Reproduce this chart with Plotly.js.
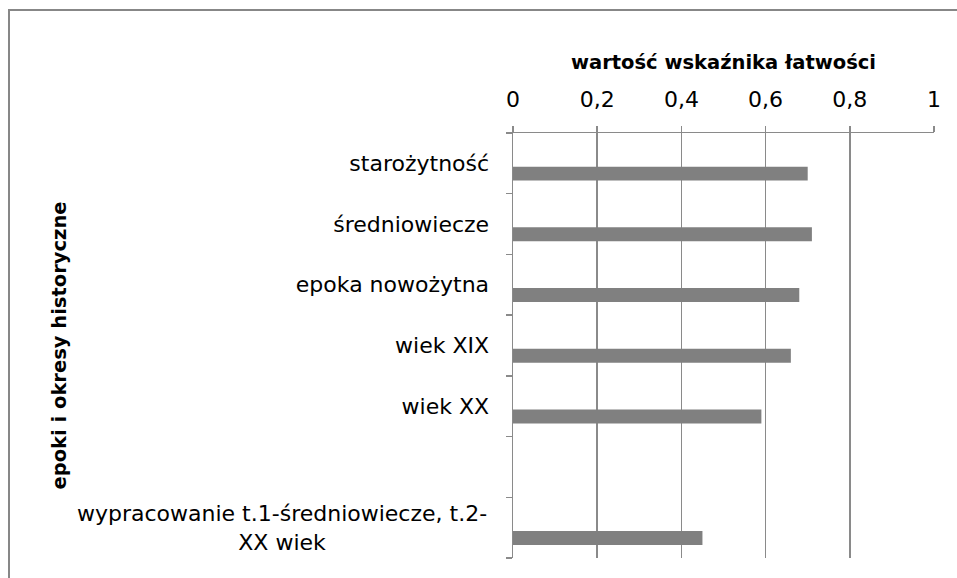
<!DOCTYPE html>
<html>
<head>
<meta charset="utf-8">
<script src="https://cdn.plot.ly/plotly-3.0.1.min.js"></script>
<style>
  html, body { margin: 0; padding: 0; overflow: hidden; background: #fff; }
  #chart { position: absolute; left: 0; top: 0; width: 957px; height: 578px; }
  #frame { position: absolute; left: 8px; top: 9px; width: 2000px; height: 2000px;
           border: 2px solid #878787; pointer-events: none; }
</style>
</head>
<body>
<div id="chart"></div>
<div id="frame"></div>
<script>
// epoki / okresy (od góry), szósta pozycja jest pusta w oryginale
const categories = [
    'starożytność',
    'średniowiecze',
    'epoka nowożytna',
    'wiek XIX',
    'wiek XX',
    '\u00a0',
    'wypracowanie t.1-średniowiecze, t.2-<br>XX wiek'
];
const values = [0.70, 0.71, 0.68, 0.66, 0.59, null, 0.45];
const xTicks = [0, 0.2, 0.4, 0.6, 0.8, 1];

const xTitle = 'wartość wskaźnika łatwości';
const yTitle = 'epoki i okresy historyczne';

const FONT = '"DejaVu Sans", sans-serif';
const GRID = '#8a8a8a';

// last label is centred in the original, so it goes in as an annotation
const lastCat = categories[categories.length - 1];
const tickText = categories.map(c => (c === lastCat ? '' : c));

const trace = {
    type: 'bar',
    orientation: 'h',
    x: values,
    y: categories,
    width: 0.23,
    offset: 0.054,
    marker: { color: '#808080', line: { width: 0 } },
    hoverinfo: 'x+y'
};

const layout = {
    width: 957,
    height: 578,
    margin: { l: 513, r: 23, t: 133, b: 20 },
    paper_bgcolor: '#fff',
    plot_bgcolor: '#fff',
    separators: ', ',
    showlegend: false,
    font: { family: FONT, size: 22, color: '#000' },
    xaxis: {
        side: 'top',
        range: [0, 1],
        tickvals: xTicks,
        ticks: 'outside',
        ticklen: 6,
        tickwidth: 1.5,
        tickcolor: GRID,
        showline: true,
        linecolor: GRID,
        linewidth: 1.5,
        showgrid: true,
        gridcolor: GRID,
        gridwidth: 1.5,
        zeroline: false,
        ticklabelstandoff: 10,
        tickfont: { family: FONT, size: 22 },
        title: { text: xTitle, font: { family: FONT, size: 19.5, weight: 'bold' }, standoff: 12 }
    },
    yaxis: {
        type: 'category',
        categoryorder: 'array',
        categoryarray: categories,
        range: [categories.length - 0.5, -0.5],
        tickvals: categories,
        ticktext: tickText,
        tickson: 'boundaries',
        ticks: 'outside',
        ticklen: 6,
        tickwidth: 1.5,
        tickcolor: GRID,
        showline: true,
        linecolor: GRID,
        linewidth: 1.5,
        showgrid: false,
        zeroline: false,
        ticklabelstandoff: 18,
        tickfont: { family: FONT, size: 22 }
    },
    annotations: [
        {
            text: lastCat,
            xref: 'paper', yref: 'y',
            x: (489 - 513) / 421, y: lastCat,
            xanchor: 'right', yanchor: 'middle',
            align: 'center',
            showarrow: false,
            font: { family: FONT, size: 22 }
        },
        {
            text: '<b>' + yTitle + '</b>',
            xref: 'paper', yref: 'paper',
            x: (59 - 513) / 421, y: 0.5,
            xanchor: 'center', yanchor: 'middle',
            textangle: -90,
            showarrow: false,
            font: { family: FONT, size: 19.5 }
        }
    ]
};

Plotly.newPlot('chart', [trace], layout, { staticPlot: true, displayModeBar: false });
</script>
</body>
</html>
